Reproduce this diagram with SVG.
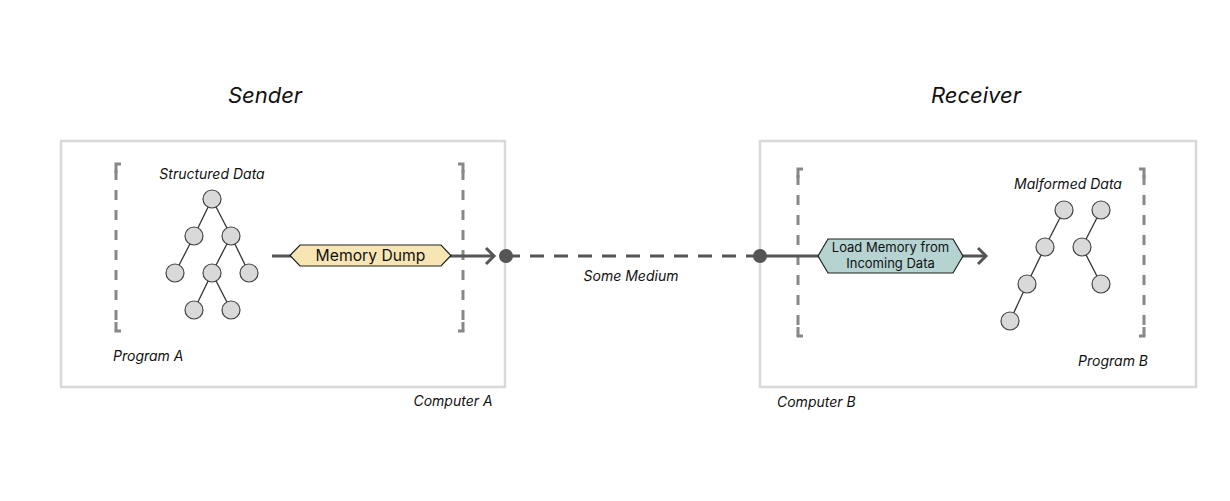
<svg xmlns="http://www.w3.org/2000/svg" width="1230" height="501" viewBox="0 0 1230 501">
<style>
.box{fill:none;stroke:#d9d9d9;stroke-width:2.5}
.br{fill:none;stroke:#888;stroke-width:3;stroke-dasharray:10 10}
.tk{fill:none;stroke:#888;stroke-width:3}
.n{fill:#d9d9d9;stroke:#444;stroke-width:1.2}
.e{stroke:#333;stroke-width:1.3}
.t{font-family:Inter,"Liberation Sans",sans-serif;font-style:italic;fill:#111}
.c{stroke:#555;stroke-width:3;fill:none}
.lbl{font-family:Inter,"Liberation Sans",sans-serif;fill:#111}
</style>
<defs>
<marker id="chev" markerWidth="20" markerHeight="20" refX="12" refY="10" orient="auto" markerUnits="userSpaceOnUse">
<path d="M4,2 L12,10 L4,18" fill="none" stroke="#555" stroke-width="3"/>
</marker>
</defs>
<rect width="1230" height="501" fill="#fff"/>
<text class="t" x="265" y="103" font-size="22" text-anchor="middle">Sender</text>
<text class="t" x="976" y="103" font-size="22" text-anchor="middle">Receiver</text>

<g id="computerA">
<rect class="box" x="61" y="141" width="444" height="246"/>
<text class="t" x="453" y="406" font-size="14" text-anchor="middle">Computer A</text>
</g>
<g id="programA">
<path class="br" d="M116,170 V331"/>
<path class="tk" d="M116,173 V164 H121"/>
<path class="tk" d="M116,322 V331 H121"/>
<path class="br" d="M463,170 V331"/>
<path class="tk" d="M463,173 V164 H458"/>
<path class="tk" d="M463,322 V331 H458"/>
<text class="t" x="113" y="361" font-size="14">Program A</text>
</g>
<g id="structuredData">
<text class="t" x="212" y="179" font-size="14" text-anchor="middle">Structured Data</text>
<line class="e" x1="212" y1="199" x2="194" y2="236"/>
<line class="e" x1="212" y1="199" x2="231" y2="236"/>
<line class="e" x1="194" y1="236" x2="175" y2="273"/>
<line class="e" x1="231" y1="236" x2="212" y2="273"/>
<line class="e" x1="231" y1="236" x2="249" y2="273"/>
<line class="e" x1="212" y1="273" x2="194" y2="310"/>
<line class="e" x1="212" y1="273" x2="231" y2="310"/>
<circle class="n" cx="212" cy="199" r="9"/>
<circle class="n" cx="194" cy="236" r="9"/>
<circle class="n" cx="231" cy="236" r="9"/>
<circle class="n" cx="175" cy="273" r="9"/>
<circle class="n" cx="212" cy="273" r="9"/>
<circle class="n" cx="249" cy="273" r="9"/>
<circle class="n" cx="194" cy="310" r="9"/>
<circle class="n" cx="231" cy="310" r="9"/>
</g>

<g id="computerB">
<rect class="box" x="760" y="141" width="436" height="246"/>
<text class="t" x="777" y="407" font-size="14">Computer B</text>
</g>
<g id="programB">
<path class="br" d="M798,175 V336"/>
<path class="tk" d="M798,178 V169 H803"/>
<path class="tk" d="M798,327 V336 H803"/>
<path class="br" d="M1144,175 V336"/>
<path class="tk" d="M1144,178 V169 H1139"/>
<path class="tk" d="M1144,327 V336 H1139"/>
<text class="t" x="1148" y="366" font-size="14" text-anchor="end">Program B</text>
</g>
<g id="malformedData">
<text class="t" x="1068" y="189" font-size="14" text-anchor="middle">Malformed Data</text>
<line class="e" x1="1064" y1="210" x2="1045" y2="247"/>
<line class="e" x1="1045" y1="247" x2="1027" y2="284"/>
<line class="e" x1="1027" y1="284" x2="1010" y2="321"/>
<line class="e" x1="1101" y1="210" x2="1082" y2="247"/>
<line class="e" x1="1082" y1="247" x2="1101" y2="284"/>
<circle class="n" cx="1064" cy="210" r="9"/>
<circle class="n" cx="1101" cy="210" r="9"/>
<circle class="n" cx="1045" cy="247" r="9"/>
<circle class="n" cx="1082" cy="247" r="9"/>
<circle class="n" cx="1027" cy="284" r="9"/>
<circle class="n" cx="1101" cy="284" r="9"/>
<circle class="n" cx="1010" cy="321" r="9"/>
</g>

<g id="connectors">
<line class="c" x1="272" y1="256" x2="494" y2="256" marker-end="url(#chev)"/>
<line class="c" x1="506" y1="256" x2="760" y2="256" stroke-dasharray="14 10"/>
<circle cx="506" cy="256" r="7" fill="#555"/>
<circle cx="760" cy="256" r="7" fill="#555"/>
<line class="c" x1="760" y1="256" x2="986" y2="256" marker-end="url(#chev)"/>
<text class="t" x="631" y="281" font-size="14" text-anchor="middle">Some Medium</text>
</g>

<g id="memoryDump">
<polygon points="290,255.5 300,245 441,245 451,255.5 441,266 300,266" fill="#f7e6b3" stroke="#222" stroke-width="1.2"/>
<text class="lbl" x="370.5" y="261" font-size="15.7" text-anchor="middle">Memory Dump</text>
</g>
<g id="loadMemory">
<polygon points="818,256 828,239 953,239 963,256 953,273 828,273" fill="#b5d3d1" stroke="#222" stroke-width="1.2"/>
<text class="lbl" x="890.5" y="252" font-size="13" text-anchor="middle">Load Memory from</text>
<text class="lbl" x="890.5" y="268" font-size="13" text-anchor="middle">Incoming Data</text>
</g>
</svg>
